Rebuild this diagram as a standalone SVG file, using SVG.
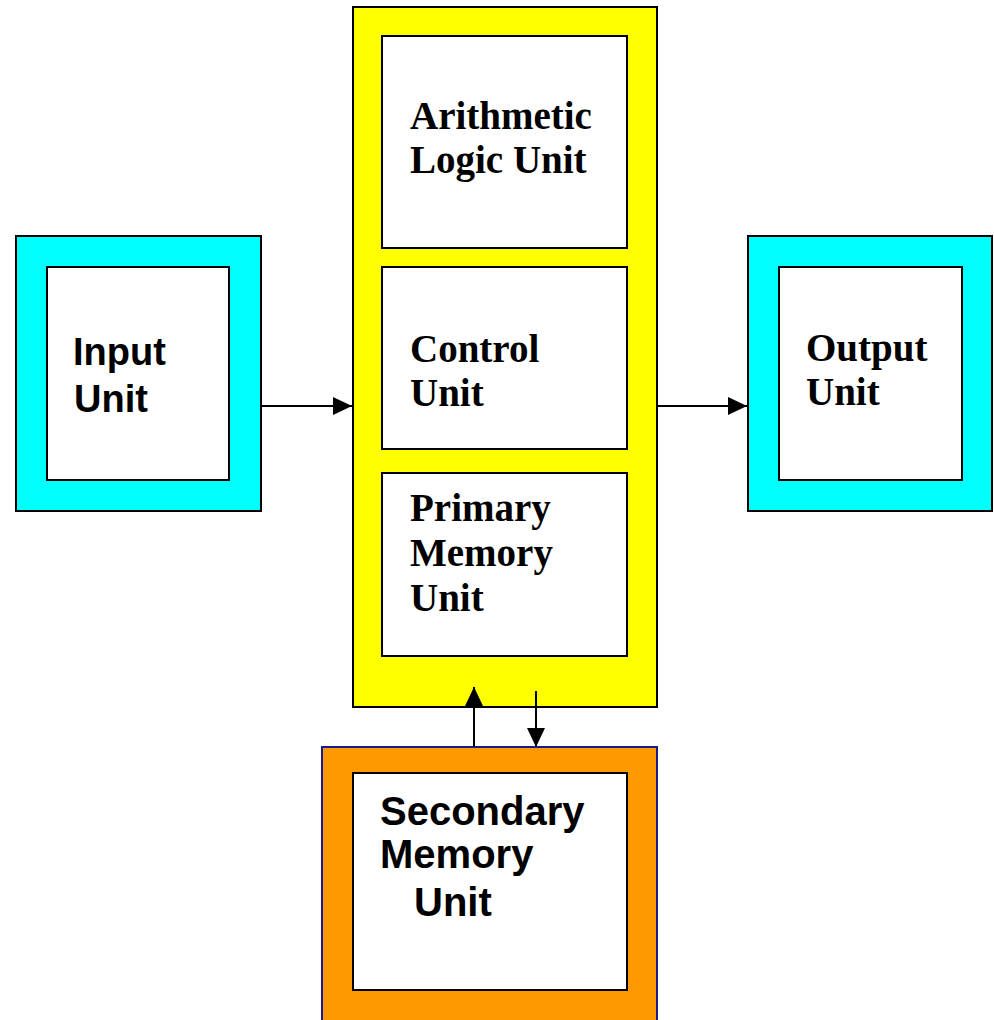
<svg xmlns="http://www.w3.org/2000/svg" width="994" height="1020" viewBox="0 0 994 1020">
<style>
.frame{stroke:#000;stroke-width:2}
.inner{fill:#fff;stroke:#000;stroke-width:2}
.sans{font-family:"Liberation Sans",Arial,sans-serif;font-weight:bold;font-size:38px;fill:#000}
.serif{font-family:"Liberation Serif","Times New Roman",serif;font-weight:bold;font-size:39px;fill:#000}
.conn{stroke:#000;stroke-width:2;fill:none}
</style>
<defs>
<marker id="arr" markerWidth="19" markerHeight="18" refX="19" refY="9" orient="auto" markerUnits="userSpaceOnUse">
<path d="M0,0 L19,9 L0,18 Z" fill="#000"/>
</marker>
</defs>
<rect width="994" height="1020" fill="#fff"/>
<g id="input-unit">
<rect class="frame" x="16" y="236" width="245" height="275" fill="#00FFFF"/>
<rect class="inner" x="47" y="267" width="182" height="213"/>
<text class="sans" x="73" y="365">Input</text>
<text class="sans" x="74" y="412">Unit</text>
</g>
<g id="cpu">
<rect class="frame" x="353" y="7" width="304" height="700" fill="#FFFF00"/>
</g>
<g id="alu">
<rect class="inner" x="382" y="36" width="245" height="212"/>
<text class="serif" x="410" y="129">Arithmetic</text>
<text class="serif" x="410" y="173">Logic Unit</text>
</g>
<g id="control-unit">
<rect class="inner" x="382" y="267" width="245" height="182"/>
<text class="serif" x="410" y="362">Control</text>
<text class="serif" x="410" y="406">Unit</text>
</g>
<g id="primary-memory">
<rect class="inner" x="382" y="473" width="245" height="183"/>
<text class="serif" x="410" y="521">Primary</text>
<text class="serif" x="410" y="566">Memory</text>
<text class="serif" x="410" y="611">Unit</text>
</g>
<g id="output-unit">
<rect class="frame" x="748" y="236" width="244" height="275" fill="#00FFFF"/>
<rect class="inner" x="779" y="267" width="183" height="213"/>
<text class="serif" x="806" y="361">Output</text>
<text class="serif" x="806" y="405">Unit</text>
</g>
<g id="secondary-memory">
<rect x="322" y="747" width="335" height="290" fill="#FF9900" stroke="#1a1a8c" stroke-width="2"/>
<rect class="inner" x="353" y="773" width="274" height="217"/>
<text class="sans" x="380" y="825" style="font-size:40px">Secondary</text>
<text class="sans" x="380" y="868" style="font-size:40px">Memory</text>
<text class="sans" x="414" y="916" style="font-size:40px">Unit</text>
</g>
<g id="connectors">
<line class="conn" x1="261" y1="406" x2="352" y2="406" marker-end="url(#arr)"/>
<line class="conn" x1="657" y1="406" x2="747" y2="406" marker-end="url(#arr)"/>
<line class="conn" x1="474" y1="747" x2="474" y2="687" marker-end="url(#arr)"/>
<line class="conn" x1="536" y1="691" x2="536" y2="747" marker-end="url(#arr)"/>
</g>
</svg>
